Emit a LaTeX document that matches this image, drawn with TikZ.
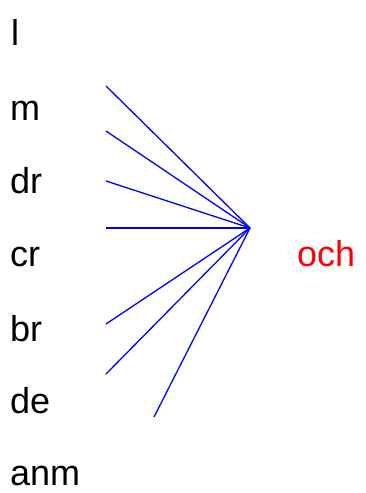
\documentclass[tikz,border=0pt]{standalone}
\usepackage{fontspec}
\setmainfont{Liberation Sans}
\begin{document}
\begin{tikzpicture}[x=1pt,y=-1pt,
  word/.style={anchor=base west,inner sep=0pt,font=\fontsize{36}{38}\selectfont},
  link/.style={draw=blue,line width=1.3pt}]
\useasboundingbox (0,0) rectangle (366,493);
\node[word] (l) at (11,45) {l};
\node[word] (m) at (10,120) {m};
\node[word] (dr) at (10,193) {dr};
\node[word] (cr) at (10,266) {cr};
\node[word] (br) at (10,341) {br};
\node[word] (de) at (10,413) {de};
\node[word] (anm) at (10,485) {anm};
\node[word,text=red] (och) at (297,266) {och};
\coordinate (hub) at (250,228);
\coordinate (e1) at (106,86);
\coordinate (e2) at (106,131);
\coordinate (e3) at (106,181);
\coordinate (e4) at (106,228);
\coordinate (e5) at (106,324);
\coordinate (e6) at (106,374);
\coordinate (e7) at (154,417);
\foreach \e in {e1,e2,e3,e4,e5,e6,e7} \draw[link] (\e) -- (hub);
\end{tikzpicture}
\end{document}
